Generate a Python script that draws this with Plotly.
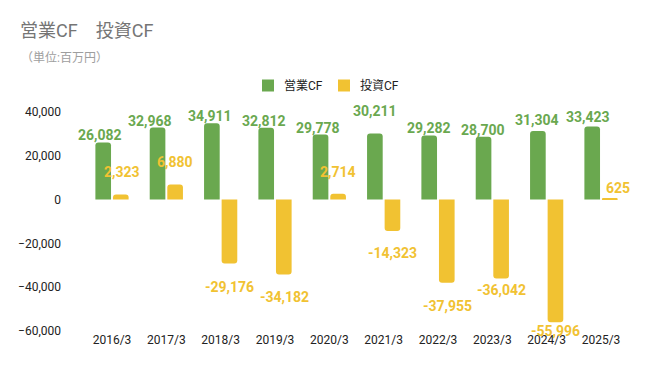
import plotly.graph_objects as go

categories = ["2016/3", "2017/3", "2018/3", "2019/3", "2020/3",
              "2021/3", "2022/3", "2023/3", "2024/3", "2025/3"]
operating_cf = [26082, 32968, 34911, 32812, 29778, 30211, 29282, 28700, 31304, 33423]
investing_cf = [2323, 6880, -29176, -34182, 2714, -14323, -37955, -36042, -55996, 625]

y_ticks = [-60000, -40000, -20000, 0, 20000, 40000]

# label offsets (pixels) from bar end, and small horizontal nudges
op_label_gap = [7, 6, 7, 7, 6, 22, 7, 7, 11, 9]
op_label_dx = [-3, -7, -2, -2, -2, 0, 0, 0, -1, -4]
inv_label_gap = [23, 23, 23, 23, 22, 22, 23, 11, 9, 10]
inv_label_dx = [1, 0, 0, 0, 0, 0, 0, 0, 0, 8]

GREEN = "#6aa84f"
YELLOW = "#f1c232"
FONT = "Roboto, 'Noto Sans CJK JP', sans-serif"

# page has an 8px body margin; figure sized to fit the window
PAGE_OFF = 8
W, H = 660 - PAGE_OFF, 371 - PAGE_OFF
ML, MR, MT, MB = 76 - PAGE_OFF, 28, 112 - PAGE_OFF, 40
PW, PH = W - ML - MR, H - MT - MB


def px_x(X):
    """window pixel x -> paper x"""
    return (X - PAGE_OFF - ML) / PW


def px_y(Y):
    """window pixel y -> paper y"""
    return (MT + PH - (Y - PAGE_OFF)) / PH


fig = go.Figure()
fig.add_trace(go.Bar(name="営業CF", x=categories, y=operating_cf,
                     marker=dict(color=GREEN, cornerradius=3, line=dict(width=0))))
fig.add_trace(go.Bar(name="投資CF", x=categories, y=investing_cf,
                     marker=dict(color=YELLOW, cornerradius=3, line=dict(width=0))))

BAR_OFF = 9
annotations = []
for i, c in enumerate(categories):
    v = operating_cf[i]
    annotations.append(dict(
        x=c, y=v, xref="x", yref="y", text=f"{v:,}", showarrow=False,
        xshift=-BAR_OFF + op_label_dx[i], yshift=op_label_gap[i] if v >= 0 else -op_label_gap[i],
        yanchor="middle", xanchor="center",
        font=dict(family=FONT, size=14, color=GREEN, weight="bold")))
    v = investing_cf[i]
    annotations.append(dict(
        x=c, y=v, xref="x", yref="y", text=f"{v:,}", showarrow=False,
        xshift=BAR_OFF + inv_label_dx[i], yshift=inv_label_gap[i] if v >= 0 else -inv_label_gap[i],
        yanchor="middle", xanchor="center",
        font=dict(family=FONT, size=14, color=YELLOW, weight="bold")))

annotations.append(dict(
    x=px_x(19), y=px_y(58), xref="paper", yref="paper", text="（単位:百万円）",
    showarrow=False, xanchor="left", yanchor="middle",
    font=dict(family=FONT, size=12, color="#9e9e9e")))

# custom legend
shapes = []
for name, color, sq_x, tx_x in [("営業CF", GREEN, 262, 283), ("投資CF", YELLOW, 338, 359)]:
    shapes.append(dict(type="rect", xref="paper", yref="paper",
                       x0=px_x(sq_x), x1=px_x(sq_x + 12), y0=px_y(91.5), y1=px_y(79.5),
                       fillcolor=color, line=dict(width=0)))
    annotations.append(dict(x=px_x(tx_x - 1), y=px_y(85.5), xref="paper", yref="paper",
                            text=name, showarrow=False, xanchor="left", yanchor="middle",
                            font=dict(family=FONT, size=12, color="#222222")))

fig.update_layout(
    width=W, height=H,
    margin=dict(l=ML, r=MR, t=MT, b=MB, autoexpand=False),
    paper_bgcolor="white", plot_bgcolor="white",
    barmode="group", bargap=0.353, bargroupgap=0.11,
    font=dict(family=FONT, size=12, color="#222222"),
    title=dict(text="営業CF　投資CF", x=(20 - PAGE_OFF) / W, xref="container", xanchor="left",
               y=1 - (31 - PAGE_OFF) / H, yref="container", yanchor="middle",
               font=dict(family=FONT, size=18, color="#757575")),
    annotations=annotations,
    shapes=shapes,
    showlegend=False,
)
fig.update_xaxes(type="category", showgrid=False, zeroline=False, showline=False,
                 ticks="", automargin=False,
                 tickfont=dict(family=FONT, size=12, color="#222222"))
fig.update_yaxes(range=[-60000, 40000], tickvals=y_ticks, tickformat=",",
                 showgrid=False, zeroline=False, showline=False, ticks="",
                 ticklabelstandoff=14, automargin=False,
                 tickfont=dict(family=FONT, size=12, color="#222222"))

fig.write_html("out.html")
